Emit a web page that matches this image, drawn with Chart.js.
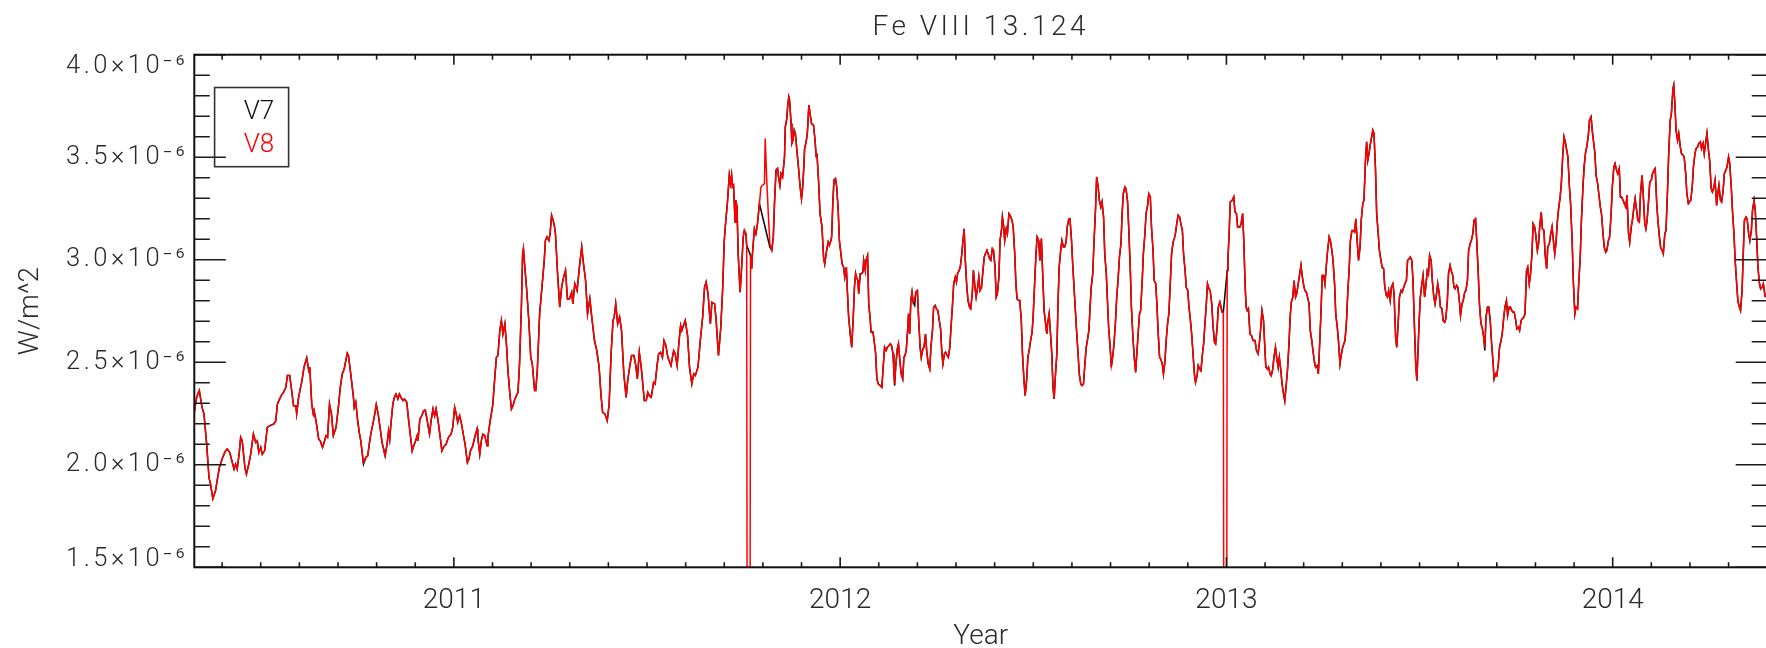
<!DOCTYPE html>
<html><head><meta charset="utf-8">
<script src="https://cdn.jsdelivr.net/npm/chart.js@4.4.1/dist/chart.umd.min.js"></script>
<style>
html,body{margin:0;padding:0;background:#fff;overflow:hidden;width:1766px;height:648px;}
#wrap{position:relative;width:1780px;height:648px;}
canvas{display:block;}
</style></head><body>
<div id="wrap"><canvas id="c" width="1780" height="648"></canvas></div>
<script>
// ---- DATA (decimal year; irradiance in units of 1e-6 W/m^2) ----
const chartTitle = 'Fe VIII 13.124';
const xAxisTitle = 'Year';
const yAxisTitle = 'W/m^2';
const seriesNames = ['V7', 'V8'];
const xTickYears = [2011, 2012, 2013, 2014];
const yTickValues = [1.5, 2.0, 2.5, 3.0, 3.5, 4.0];
const yTickExponent = '\u207B\u2076';

const years = [
2010.328,2010.334,2010.341,2010.348,2010.353,2010.360,2010.366,2010.370,2010.376,2010.383,
2010.387,2010.393,2010.400,2010.405,2010.409,2010.413,2010.420,2010.424,2010.431,2010.435,
2010.439,2010.444,2010.448,2010.452,2010.459,2010.463,2010.469,2010.474,2010.481,2010.487,
2010.491,2010.495,2010.500,2010.504,2010.510,2010.517,2010.524,2010.534,2010.539,2010.543,
2010.547,2010.553,2010.559,2010.565,2010.569,2010.575,2010.579,2010.585,2010.591,2010.593,
2010.598,2010.604,2010.606,2010.612,2010.619,2010.625,2010.627,2010.632,2010.636,2010.638,
2010.643,2010.650,2010.654,2010.660,2010.664,2010.669,2010.673,2010.678,2010.683,2010.688,
2010.695,2010.701,2010.706,2010.711,2010.716,2010.724,2010.727,2010.733,2010.740,2010.742,
2010.746,2010.751,2010.755,2010.759,2010.766,2010.772,2010.777,2010.781,2010.785,2010.792,
2010.796,2010.799,2010.804,2010.810,2010.814,2010.818,2010.822,2010.827,2010.831,2010.834,
2010.837,2010.842,2010.846,2010.850,2010.855,2010.859,2010.863,2010.868,2010.872,2010.878,
2010.883,2010.888,2010.892,2010.896,2010.901,2010.905,2010.907,2010.912,2010.917,2010.922,
2010.926,2010.931,2010.937,2010.941,2010.946,2010.950,2010.954,2010.959,2010.963,2010.969,
2010.973,2010.980,2010.986,2010.993,2010.997,2011.002,2011.006,2011.010,2011.015,2011.019,
2011.025,2011.029,2011.035,2011.039,2011.043,2011.049,2011.054,2011.060,2011.062,2011.067,
2011.071,2011.075,2011.080,2011.086,2011.088,2011.094,2011.097,2011.101,2011.104,2011.110,
2011.114,2011.119,2011.123,2011.127,2011.132,2011.136,2011.140,2011.145,2011.149,2011.153,
2011.158,2011.162,2011.166,2011.170,2011.175,2011.178,2011.180,2011.183,2011.188,2011.194,
2011.199,2011.203,2011.209,2011.212,2011.216,2011.222,2011.228,2011.234,2011.237,2011.241,
2011.246,2011.249,2011.253,2011.257,2011.260,2011.263,2011.268,2011.274,2011.279,2011.284,
2011.289,2011.294,2011.299,2011.305,2011.308,2011.313,2011.319,2011.325,2011.331,2011.335,
2011.341,2011.346,2011.352,2011.357,2011.364,2011.370,2011.376,2011.381,2011.385,2011.391,
2011.397,2011.402,2011.407,2011.412,2011.415,2011.419,2011.424,2011.429,2011.434,2011.440,
2011.446,2011.450,2011.455,2011.460,2011.466,2011.471,2011.475,2011.480,2011.485,2011.493,
2011.498,2011.502,2011.506,2011.511,2011.517,2011.521,2011.526,2011.530,2011.535,2011.540,
2011.544,2011.549,2011.554,2011.562,2011.569,2011.573,2011.578,2011.583,2011.587,2011.590,
2011.599,2011.605,2011.610,2011.616,2011.621,2011.625,2011.632,2011.638,2011.644,2011.649,
2011.653,2011.658,2011.664,2011.668,2011.675,2011.679,2011.685,2011.691,2011.696,2011.700,
2011.704,2011.708,2011.713,2011.716,2011.719,2011.721,2011.724,2011.728,2011.730,2011.733,
2011.736,2011.741,2011.745,2011.749,2011.752,2011.756,2011.758,2011.760,2011.766,2011.768,
2011.771,2011.773,2011.778,2011.782,2011.786,2011.791,2011.795,2011.799,2011.804,2011.806,
2011.810,2011.814,2011.818,2011.823,2011.827,2011.830,2011.834,2011.838,2011.841,2011.844,
2011.847,2011.851,2011.856,2011.858,2011.862,2011.864,2011.867,2011.869,2011.873,2011.875,
2011.878,2011.881,2011.884,2011.888,2011.892,2011.896,2011.900,2011.903,2011.906,2011.908,
2011.912,2011.915,2011.919,2011.922,2011.926,2011.931,2011.935,2011.938,2011.940,2011.944,
2011.948,2011.953,2011.957,2011.960,2011.965,2011.969,2011.972,2011.976,2011.978,2011.981,
2011.984,2011.988,2011.991,2011.995,2011.998,2012.002,2012.005,2012.009,2012.012,2012.016,
2012.019,2012.022,2012.027,2012.030,2012.034,2012.037,2012.040,2012.042,2012.046,2012.048,
2012.052,2012.055,2012.059,2012.061,2012.065,2012.067,2012.071,2012.074,2012.078,2012.080,
2012.085,2012.088,2012.092,2012.095,2012.099,2012.104,2012.108,2012.112,2012.115,2012.119,
2012.122,2012.126,2012.130,2012.133,2012.137,2012.139,2012.141,2012.144,2012.148,2012.151,
2012.155,2012.158,2012.162,2012.165,2012.168,2012.171,2012.175,2012.177,2012.180,2012.183,
2012.186,2012.189,2012.193,2012.196,2012.200,2012.203,2012.207,2012.210,2012.214,2012.217,
2012.221,2012.224,2012.228,2012.232,2012.235,2012.239,2012.242,2012.246,2012.249,2012.253,
2012.256,2012.260,2012.263,2012.266,2012.270,2012.273,2012.277,2012.280,2012.284,2012.287,
2012.291,2012.294,2012.298,2012.301,2012.304,2012.308,2012.311,2012.315,2012.318,2012.321,
2012.324,2012.328,2012.331,2012.335,2012.338,2012.342,2012.345,2012.349,2012.352,2012.356,
2012.359,2012.362,2012.366,2012.369,2012.373,2012.376,2012.380,2012.383,2012.387,2012.390,
2012.394,2012.397,2012.401,2012.404,2012.407,2012.411,2012.414,2012.418,2012.420,2012.423,
2012.426,2012.430,2012.433,2012.437,2012.440,2012.445,2012.448,2012.452,2012.455,2012.458,
2012.462,2012.465,2012.469,2012.472,2012.476,2012.479,2012.483,2012.486,2012.490,2012.493,
2012.497,2012.500,2012.503,2012.507,2012.510,2012.514,2012.517,2012.521,2012.524,2012.528,
2012.531,2012.535,2012.537,2012.541,2012.544,2012.548,2012.551,2012.554,2012.557,2012.561,
2012.564,2012.567,2012.571,2012.574,2012.578,2012.581,2012.585,2012.588,2012.592,2012.595,
2012.599,2012.602,2012.606,2012.609,2012.612,2012.616,2012.619,2012.623,2012.626,2012.630,
2012.633,2012.637,2012.640,2012.644,2012.647,2012.650,2012.654,2012.657,2012.661,2012.664,
2012.668,2012.671,2012.675,2012.678,2012.682,2012.685,2012.689,2012.692,2012.695,2012.699,
2012.702,2012.706,2012.709,2012.713,2012.716,2012.720,2012.723,2012.727,2012.730,2012.733,
2012.737,2012.740,2012.744,2012.747,2012.751,2012.754,2012.758,2012.761,2012.765,2012.768,
2012.772,2012.775,2012.778,2012.782,2012.785,2012.789,2012.792,2012.796,2012.799,2012.803,
2012.806,2012.810,2012.813,2012.817,2012.820,2012.823,2012.827,2012.830,2012.834,2012.837,
2012.841,2012.844,2012.848,2012.851,2012.855,2012.858,2012.862,2012.865,2012.868,2012.872,
2012.875,2012.879,2012.882,2012.886,2012.889,2012.893,2012.896,2012.900,2012.903,2012.906,
2012.910,2012.913,2012.917,2012.920,2012.924,2012.927,2012.931,2012.934,2012.938,2012.941,
2012.945,2012.948,2012.951,2012.955,2012.958,2012.962,2012.965,2012.969,2012.972,2012.976,
2012.979,2012.983,2012.986,2012.989,2012.992,2012.994,2013.000,2013.002,2013.004,2013.007,
2013.010,2013.015,2013.019,2013.022,2013.026,2013.029,2013.035,2013.038,2013.042,2013.045,
2013.048,2013.051,2013.054,2013.057,2013.061,2013.065,2013.069,2013.074,2013.078,2013.082,
2013.086,2013.089,2013.092,2013.096,2013.099,2013.102,2013.106,2013.109,2013.113,2013.116,
2013.120,2013.123,2013.127,2013.130,2013.134,2013.137,2013.141,2013.144,2013.148,2013.151,
2013.155,2013.158,2013.162,2013.165,2013.168,2013.172,2013.175,2013.179,2013.182,2013.186,
2013.189,2013.193,2013.196,2013.200,2013.203,2013.207,2013.210,2013.214,2013.217,2013.221,
2013.224,2013.228,2013.231,2013.235,2013.238,2013.241,2013.245,2013.248,2013.252,2013.255,
2013.259,2013.262,2013.266,2013.269,2013.273,2013.276,2013.280,2013.283,2013.287,2013.290,
2013.294,2013.297,2013.301,2013.304,2013.307,2013.311,2013.314,2013.318,2013.321,2013.325,
2013.328,2013.332,2013.335,2013.339,2013.342,2013.346,2013.349,2013.353,2013.356,2013.360,
2013.363,2013.366,2013.369,2013.373,2013.376,2013.379,2013.382,2013.386,2013.389,2013.393,
2013.396,2013.400,2013.403,2013.407,2013.410,2013.414,2013.417,2013.420,2013.424,2013.427,
2013.431,2013.434,2013.438,2013.441,2013.445,2013.448,2013.452,2013.455,2013.459,2013.462,
2013.466,2013.469,2013.473,2013.476,2013.480,2013.483,2013.486,2013.490,2013.493,2013.495,
2013.499,2013.502,2013.506,2013.509,2013.513,2013.516,2013.520,2013.523,2013.526,2013.530,
2013.533,2013.537,2013.540,2013.544,2013.547,2013.551,2013.554,2013.558,2013.561,2013.565,
2013.568,2013.572,2013.575,2013.579,2013.582,2013.586,2013.589,2013.592,2013.596,2013.599,
2013.603,2013.606,2013.610,2013.613,2013.617,2013.620,2013.624,2013.627,2013.631,2013.634,
2013.638,2013.641,2013.645,2013.648,2013.652,2013.655,2013.659,2013.662,2013.666,2013.669,
2013.672,2013.676,2013.679,2013.683,2013.686,2013.690,2013.693,2013.697,2013.700,2013.704,
2013.707,2013.711,2013.714,2013.718,2013.721,2013.725,2013.728,2013.732,2013.735,2013.739,
2013.742,2013.745,2013.749,2013.752,2013.756,2013.759,2013.763,2013.766,2013.770,2013.773,
2013.777,2013.780,2013.784,2013.787,2013.791,2013.794,2013.798,2013.801,2013.805,2013.808,
2013.811,2013.815,2013.818,2013.822,2013.825,2013.829,2013.832,2013.836,2013.839,2013.843,
2013.846,2013.850,2013.853,2013.857,2013.860,2013.864,2013.867,2013.871,2013.874,2013.878,
2013.881,2013.884,2013.888,2013.891,2013.895,2013.898,2013.902,2013.905,2013.909,2013.912,
2013.916,2013.919,2013.923,2013.926,2013.930,2013.933,2013.937,2013.940,2013.944,2013.947,
2013.950,2013.954,2013.957,2013.961,2013.964,2013.968,2013.971,2013.975,2013.978,2013.982,
2013.985,2013.989,2013.992,2013.996,2013.999,2014.003,2014.006,2014.010,2014.013,2014.017,
2014.020,2014.023,2014.027,2014.030,2014.034,2014.037,2014.041,2014.044,2014.048,2014.051,
2014.055,2014.058,2014.062,2014.065,2014.069,2014.072,2014.076,2014.079,2014.083,2014.086,
2014.089,2014.093,2014.096,2014.100,2014.103,2014.107,2014.110,2014.114,2014.117,2014.121,
2014.124,2014.128,2014.131,2014.135,2014.138,2014.142,2014.145,2014.149,2014.152,2014.156,
2014.158,2014.161,2014.164,2014.168,2014.171,2014.175,2014.178,2014.182,2014.185,2014.189,
2014.192,2014.196,2014.199,2014.202,2014.206,2014.209,2014.213,2014.216,2014.220,2014.223,
2014.227,2014.230,2014.234,2014.237,2014.241,2014.244,2014.248,2014.251,2014.255,2014.258,
2014.262,2014.265,2014.269,2014.272,2014.275,2014.279,2014.282,2014.286,2014.289,2014.293,
2014.296,2014.300,2014.303,2014.307,2014.310,2014.314,2014.317,2014.321,2014.324,2014.328,
2014.331,2014.335,2014.338,2014.341,2014.345,2014.348,2014.352,2014.355,2014.359,2014.362,
2014.366,2014.369,2014.373,2014.376,2014.380,2014.383,2014.387,2014.390,2014.395
];

// V8 (red); 0 marks the two dropout days that fall far below the plotted range
const v8 = [
2.256,2.329,2.362,2.280,2.248,2.101,1.938,1.906,1.835,1.873,
1.922,1.987,2.028,2.052,2.068,2.077,2.060,2.028,1.979,2.003,
1.979,2.052,2.134,2.117,1.987,1.954,2.003,2.052,2.150,2.109,
2.117,2.060,2.085,2.052,2.068,2.182,2.191,2.199,2.215,2.296,
2.313,2.337,2.353,2.378,2.435,2.435,2.378,2.288,2.288,2.248,
2.329,2.386,2.402,2.476,2.521,2.451,2.476,2.296,2.248,2.264,
2.215,2.125,2.117,2.085,2.109,2.142,2.134,2.296,2.248,2.142,
2.182,2.280,2.378,2.443,2.467,2.544,2.533,2.443,2.329,2.280,
2.305,2.215,2.158,2.117,2.011,2.036,2.044,2.101,2.150,2.215,
2.256,2.293,2.248,2.166,2.109,2.077,2.044,2.101,2.166,2.125,
2.199,2.296,2.329,2.345,2.321,2.345,2.329,2.313,2.321,2.305,
2.215,2.134,2.068,2.093,2.117,2.142,2.117,2.223,2.239,2.264,
2.267,2.215,2.150,2.215,2.272,2.239,2.272,2.215,2.158,2.068,
2.085,2.101,2.134,2.150,2.182,2.280,2.248,2.207,2.239,2.207,
2.142,2.101,2.011,2.028,2.068,2.093,2.134,2.174,2.134,2.052,
2.117,2.150,2.142,2.093,2.134,2.215,2.248,2.296,2.378,2.524,
2.533,2.655,2.704,2.638,2.687,2.590,2.459,2.345,2.272,2.288,
2.321,2.337,2.353,2.492,2.785,3.029,3.054,2.980,2.866,2.704,
2.524,2.492,2.362,2.362,2.459,2.736,2.866,2.997,3.094,3.111,
3.094,3.127,3.217,3.192,3.168,3.127,2.948,2.769,2.866,2.915,
2.948,2.809,2.809,2.842,2.785,2.883,2.850,2.964,3.062,2.989,
2.899,2.736,2.809,2.720,2.606,2.557,2.476,2.337,2.256,2.248,
2.215,2.296,2.541,2.704,2.720,2.785,2.687,2.720,2.655,2.443,
2.329,2.410,2.476,2.533,2.533,2.484,2.419,2.549,2.476,2.313,
2.313,2.353,2.337,2.329,2.402,2.394,2.484,2.541,2.549,2.524,
2.606,2.581,2.524,2.484,2.557,2.541,2.484,2.606,2.679,2.655,
2.704,2.630,2.476,2.394,2.443,2.435,2.476,2.606,2.720,2.866,
2.891,2.834,2.687,2.793,2.785,2.704,2.533,2.671,2.866,3.094,
3.192,3.274,3.412,3.371,3.412,3.355,3.363,3.184,3.290,3.257,
3.029,2.842,2.964,3.111,3.143,3.127,3.070,0,0,3.021,
2.956,3.029,3.151,3.127,3.176,3.274,3.355,3.363,3.371,3.591,
3.388,3.225,3.078,3.046,3.111,3.274,3.437,3.445,3.396,3.363,
3.420,3.404,3.502,3.648,3.689,3.746,3.795,3.779,3.664,3.567,
3.583,3.632,3.616,3.534,3.453,3.363,3.298,3.355,3.453,3.542,
3.575,3.616,3.754,3.713,3.664,3.656,3.583,3.502,3.518,3.388,
3.225,3.160,3.013,2.980,3.046,3.086,3.070,3.094,3.111,3.274,
3.388,3.396,3.355,3.241,3.094,3.029,2.980,2.964,2.915,2.964,
2.834,2.720,2.622,2.573,2.720,2.866,2.932,2.915,2.899,2.834,
2.932,2.932,2.940,2.997,2.948,2.997,3.021,2.785,2.704,2.647,
2.647,2.606,2.541,2.419,2.394,2.386,2.378,2.492,2.573,2.557,
2.573,2.581,2.590,2.581,2.541,2.459,2.394,2.484,2.565,2.590,
2.500,2.443,2.419,2.524,2.533,2.557,2.663,2.736,2.638,2.801,
2.842,2.793,2.809,2.842,2.850,2.720,2.573,2.524,2.565,2.573,
2.638,2.557,2.492,2.467,2.573,2.655,2.769,2.777,2.761,2.752,
2.712,2.663,2.557,2.492,2.541,2.549,2.533,2.524,2.573,2.671,
2.785,2.883,2.915,2.891,2.932,2.948,2.964,3.029,3.094,3.151,
2.997,2.866,2.801,2.769,2.761,2.834,2.948,2.866,2.818,2.866,
2.915,2.850,2.866,2.932,3.013,3.029,3.046,3.029,3.005,2.997,
3.054,3.046,2.964,2.818,2.834,2.915,3.094,3.151,3.208,3.168,
3.094,3.151,3.127,3.225,3.217,3.192,3.160,3.029,2.883,2.809,
2.801,2.801,2.704,2.541,2.410,2.337,2.419,2.524,2.565,2.606,
2.647,2.736,2.866,3.029,3.111,3.094,2.997,3.103,2.948,2.752,
2.704,2.638,2.687,2.736,2.655,2.541,2.378,2.321,2.427,2.541,
2.785,2.964,3.046,3.094,3.062,3.062,3.086,3.160,3.200,3.200,
3.094,2.980,2.850,2.752,2.655,2.541,2.443,2.394,2.386,2.394,
2.476,2.573,2.606,2.655,2.769,2.866,2.932,3.078,3.241,3.404,
3.355,3.290,3.257,3.282,3.208,3.029,2.932,2.801,2.671,2.573,
2.484,2.533,2.590,2.704,2.818,2.915,3.013,3.078,3.225,3.322,
3.355,3.347,3.290,3.160,2.964,2.769,2.622,2.533,2.451,2.541,
2.655,2.736,2.752,2.899,3.029,3.127,3.225,3.265,3.322,3.306,
3.160,3.046,2.899,2.883,2.785,2.655,2.524,2.516,2.492,2.443,
2.508,2.606,2.695,2.736,2.899,3.029,3.086,3.103,3.127,3.184,
3.217,3.208,3.176,3.143,3.029,2.948,2.866,2.850,2.769,2.720,
2.638,2.557,2.443,2.402,2.435,2.484,2.467,2.459,2.541,2.590,
2.704,2.785,2.883,2.858,2.850,2.785,2.687,2.598,2.590,2.671,
2.769,2.793,2.769,2.744,2.744,0,0,2.948,3.005,3.127,
3.282,3.290,3.306,3.233,3.225,3.160,3.160,3.176,3.225,3.094,
2.899,2.769,2.752,2.761,2.638,2.630,2.606,2.606,2.557,2.541,
2.606,2.671,2.752,2.704,2.590,2.476,2.467,2.476,2.443,2.435,
2.467,2.524,2.573,2.524,2.476,2.524,2.459,2.394,2.345,2.313,
2.394,2.459,2.590,2.720,2.793,2.818,2.899,2.818,2.834,2.883,
2.923,2.972,2.923,2.875,2.850,2.842,2.818,2.785,2.655,2.606,
2.557,2.500,2.476,2.484,2.443,2.573,2.752,2.923,2.923,2.883,
2.980,3.046,3.111,3.094,3.046,2.997,2.883,2.736,2.671,2.606,
2.492,2.533,2.573,2.590,2.606,2.704,2.834,2.964,3.094,3.143,
3.143,3.135,3.200,3.078,2.997,3.062,3.192,3.274,3.290,3.485,
3.575,3.485,3.518,3.567,3.599,3.632,3.616,3.437,3.225,3.127,
3.046,2.997,2.964,2.956,2.866,2.826,2.818,2.850,2.801,2.866,
2.883,2.834,2.622,2.573,2.704,2.818,2.850,2.842,2.866,2.883,
2.899,2.997,3.005,3.013,2.997,2.899,2.720,2.492,2.410,2.508,
2.704,2.818,2.883,2.923,2.818,2.866,2.948,2.932,3.021,2.997,
2.899,2.818,2.785,2.834,2.883,2.834,2.769,2.761,2.704,2.695,
2.712,2.801,2.932,2.972,2.948,2.923,2.866,2.858,2.875,2.866,
2.801,2.728,2.785,2.801,2.842,2.850,2.899,3.046,3.078,3.094,
3.127,3.192,3.200,3.094,2.932,2.785,2.687,2.671,2.622,2.573,
2.720,2.769,2.769,2.704,2.606,2.508,2.419,2.443,2.435,2.492,
2.573,2.606,2.638,2.720,2.769,2.801,2.728,2.769,2.769,2.752,
2.744,2.744,2.704,2.663,2.671,2.655,2.704,2.712,2.720,2.736,
2.948,2.964,2.883,2.923,3.029,3.176,3.160,3.119,3.046,3.078,
3.160,3.233,3.151,3.143,3.029,2.956,3.062,3.078,3.119,3.160,
3.103,3.029,3.078,3.192,3.249,3.306,3.371,3.518,3.599,3.567,
3.534,3.502,3.355,3.274,3.094,2.899,2.736,2.769,2.761,2.883,
3.013,3.192,3.355,3.453,3.526,3.551,3.608,3.681,3.697,3.632,
3.583,3.518,3.412,3.371,3.322,3.257,3.225,3.127,3.062,3.037,
3.046,3.094,3.111,3.225,3.355,3.453,3.469,3.437,3.420,3.445,
3.306,3.306,3.290,3.274,3.257,3.314,3.127,3.086,3.160,3.192,
3.257,3.298,3.241,3.192,3.184,3.322,3.412,3.322,3.176,3.151,
3.192,3.290,3.379,3.388,3.420,3.437,3.445,3.274,3.192,3.111,
3.062,3.046,3.029,3.127,3.143,3.339,3.518,3.681,3.713,3.835,
3.852,3.762,3.632,3.583,3.616,3.551,3.518,3.510,3.502,3.420,
3.322,3.274,3.282,3.290,3.355,3.453,3.518,3.542,3.551,3.567,
3.575,3.542,3.567,3.518,3.575,3.616,3.534,3.485,3.347,3.331,
3.355,3.388,3.265,3.322,3.363,3.290,3.282,3.339,3.420,3.437,
3.453,3.502,3.469,3.355,3.241,3.127,2.997,2.883,2.801,2.769,
2.752,2.850,3.029,3.192,3.208,3.200,3.127,3.094,3.143,3.241,
3.290,3.241,3.094,2.964,2.883,2.858,2.866,2.883,2.818
];

// V7 (black); null = no V7 value on that day (line drawn straight across)
const v7 = [
2.256,2.329,2.362,2.280,2.248,2.101,1.938,1.906,1.835,1.873,
1.922,1.987,2.028,2.052,2.068,2.077,2.060,2.028,1.979,2.003,
1.979,2.052,2.134,2.117,1.987,1.954,2.003,2.052,2.150,2.109,
2.117,2.060,2.085,2.052,2.068,2.182,2.191,2.199,2.215,2.296,
2.313,2.337,2.353,2.378,2.435,2.435,2.378,2.288,2.288,2.248,
2.329,2.386,2.402,2.476,2.521,2.451,2.476,2.296,2.248,2.264,
2.215,2.125,2.117,2.085,2.109,2.142,2.134,2.296,2.248,2.142,
2.182,2.280,2.378,2.443,2.467,2.544,2.533,2.443,2.329,2.280,
2.305,2.215,2.158,2.117,2.003,2.036,2.044,2.101,2.150,2.215,
2.256,2.293,2.248,2.166,2.109,2.077,2.044,2.101,2.166,2.125,
2.199,2.296,2.329,2.345,2.321,2.345,2.329,2.313,2.321,2.305,
2.215,2.134,2.068,2.093,2.117,2.142,2.117,2.223,2.239,2.264,
2.267,2.215,2.150,2.215,2.272,2.239,2.272,2.215,2.158,2.068,
2.085,2.101,2.134,2.150,2.182,2.280,2.248,2.207,2.239,2.207,
2.142,2.101,2.011,2.028,2.068,2.093,2.134,2.174,2.134,2.052,
2.117,2.150,2.142,2.093,2.134,2.215,2.248,2.296,2.378,2.524,
2.533,2.655,2.704,2.638,2.687,2.590,2.459,2.345,2.272,2.288,
2.321,2.337,2.353,2.492,2.785,3.029,3.054,2.980,2.866,2.704,
2.524,2.492,2.362,2.362,2.459,2.736,2.866,2.997,3.094,3.111,
3.094,3.127,3.217,3.192,3.168,3.127,2.948,2.769,2.866,2.915,
2.948,2.809,2.809,2.842,2.785,2.883,2.850,2.964,3.062,2.989,
2.899,2.736,2.809,2.720,2.606,2.557,2.476,2.337,2.256,2.248,
2.215,2.296,2.541,2.704,2.720,2.785,2.687,2.720,2.655,2.443,
2.329,2.410,2.476,2.533,2.533,2.484,2.419,2.549,2.476,2.313,
2.313,2.353,2.337,2.329,2.402,2.394,2.484,2.541,2.549,2.524,
2.606,2.581,2.524,2.484,2.557,2.541,2.484,2.606,2.679,2.655,
2.704,2.630,2.476,2.394,2.443,2.435,2.476,2.606,2.720,2.866,
2.891,2.834,2.687,2.793,2.785,2.704,2.533,2.671,2.866,3.094,
3.192,3.274,3.412,3.371,3.412,3.355,3.363,3.184,3.290,3.257,
3.029,2.842,2.964,3.111,3.143,3.127,3.070,null,null,3.021,
2.956,3.029,3.151,3.127,3.176,3.274,null,null,null,null,
null,null,3.062,3.046,3.111,3.274,3.437,3.445,3.396,3.363,
3.420,3.404,3.502,3.648,3.689,3.746,3.795,3.779,3.664,3.567,
3.583,3.632,3.616,3.534,3.453,3.363,3.298,3.355,3.453,3.542,
3.575,3.616,3.754,3.713,3.664,3.656,3.583,3.502,3.518,3.388,
3.225,3.160,3.013,2.980,3.046,3.086,3.070,3.094,3.111,3.274,
3.388,3.396,3.355,3.241,3.094,3.029,2.980,2.964,2.915,2.964,
2.834,2.720,2.622,2.573,2.720,2.866,2.932,2.915,2.899,2.834,
2.932,2.932,2.940,2.997,2.948,2.997,3.021,2.785,2.704,2.647,
2.647,2.606,2.541,2.419,2.394,2.386,2.378,2.492,2.573,2.557,
2.573,2.581,2.590,2.581,2.541,2.459,2.386,2.484,2.565,2.590,
2.500,2.443,2.419,2.524,2.533,2.557,2.663,2.736,2.638,2.801,
2.842,2.793,2.777,2.842,2.850,2.720,2.573,2.524,2.565,2.573,
2.638,2.557,2.492,2.467,2.573,2.655,2.769,2.777,2.761,2.752,
2.712,2.663,2.557,2.492,2.541,2.549,2.533,2.524,2.573,2.671,
2.785,2.883,2.915,2.891,2.932,2.948,2.964,3.029,3.094,3.151,
2.997,2.866,2.801,2.769,2.761,2.834,2.948,2.866,2.818,2.866,
2.915,2.850,2.866,2.932,3.013,3.029,3.046,3.029,3.005,2.997,
3.054,3.046,2.964,2.818,2.834,2.915,3.094,3.151,3.208,3.168,
3.094,3.151,3.127,3.225,3.217,3.192,3.160,3.029,2.883,2.809,
2.801,2.801,2.704,2.541,2.410,2.337,2.419,2.524,2.565,2.606,
2.647,2.736,2.866,3.029,3.111,3.094,2.997,3.103,2.948,2.752,
2.704,2.638,2.687,2.736,2.655,2.541,2.378,2.321,2.427,2.541,
2.785,2.964,3.046,3.094,3.062,3.062,3.086,3.160,3.200,3.200,
3.094,2.980,2.850,2.752,2.655,2.541,2.443,2.394,2.386,2.394,
2.476,2.573,2.606,2.655,2.769,2.866,2.932,3.078,3.241,3.404,
3.355,3.290,3.257,3.282,3.208,3.029,2.932,2.801,2.671,2.573,
2.476,2.533,2.590,2.704,2.818,2.915,3.013,3.078,3.225,3.322,
3.355,3.347,3.282,3.160,2.964,2.769,2.622,2.533,2.451,2.541,
2.655,2.736,2.752,2.899,3.029,3.127,3.225,3.265,3.322,3.306,
3.160,3.046,2.899,2.883,2.785,2.655,2.524,2.516,2.492,2.443,
2.508,2.606,2.695,2.736,2.899,3.029,3.086,3.103,3.127,3.184,
3.217,3.208,3.176,3.143,3.029,2.948,2.866,2.850,2.769,2.720,
2.638,2.557,2.443,2.402,2.435,2.484,2.467,2.459,2.541,2.590,
2.704,2.785,2.883,2.858,2.850,2.785,2.687,2.598,2.590,2.671,
2.769,2.793,2.769,2.744,2.744,null,null,2.948,3.005,3.127,
3.282,3.290,3.306,3.233,3.225,3.160,3.160,3.176,3.225,3.094,
2.899,2.769,2.752,2.761,2.638,2.630,2.606,2.606,2.557,2.541,
2.606,2.671,2.752,2.704,2.590,2.476,2.467,2.476,2.443,2.435,
2.467,2.524,2.573,2.524,2.476,2.524,2.459,2.394,2.345,2.313,
2.394,2.459,2.590,2.720,2.793,2.818,2.899,2.818,2.834,2.883,
2.923,2.972,2.923,2.875,2.850,2.842,2.818,2.785,2.655,2.606,
2.557,2.500,2.476,2.484,2.443,2.573,2.752,2.923,2.923,2.883,
2.980,3.046,3.111,3.094,3.046,2.997,2.883,2.736,2.671,2.606,
2.492,2.533,2.573,2.590,2.606,2.704,2.834,2.964,3.094,3.143,
3.143,3.135,3.200,3.078,2.997,3.062,3.192,3.274,3.290,3.485,
3.575,3.485,3.518,3.567,3.599,3.632,3.616,3.437,3.225,3.127,
3.046,2.997,2.964,2.956,2.866,2.826,2.818,2.850,2.801,2.866,
2.883,2.834,2.622,2.573,2.704,2.818,2.850,2.842,2.866,2.883,
2.899,2.997,3.005,3.013,2.997,2.899,2.720,2.492,2.410,2.508,
2.704,2.818,2.883,2.923,2.818,2.866,2.948,2.932,3.021,2.997,
2.899,2.818,2.785,2.834,2.883,2.834,2.769,2.761,2.704,2.695,
2.712,2.801,2.932,2.972,2.948,2.923,2.866,2.858,2.875,2.866,
2.801,2.728,2.785,2.801,2.842,2.850,2.899,3.046,3.078,3.094,
3.127,3.192,3.200,3.094,2.932,2.785,2.687,2.671,2.622,2.557,
2.720,2.769,2.769,2.704,2.606,2.508,2.419,2.443,2.435,2.492,
2.573,2.606,2.638,2.720,2.769,2.801,2.728,2.769,2.769,2.752,
2.744,2.744,2.704,2.663,2.671,2.655,2.704,2.712,2.720,2.736,
2.948,2.964,2.883,2.923,3.029,3.176,3.160,3.119,3.046,3.078,
3.160,3.233,3.151,3.143,3.029,2.956,3.062,3.078,3.119,3.160,
3.103,3.029,3.078,3.192,3.249,3.306,3.371,3.518,3.599,3.567,
3.534,3.502,3.355,3.274,3.094,2.899,2.736,2.769,2.761,2.883,
3.013,3.192,3.355,3.453,3.526,3.551,3.608,3.681,3.697,3.632,
3.583,3.518,3.412,3.371,3.322,3.257,3.225,3.127,3.062,3.037,
3.046,3.094,3.111,3.225,3.355,3.453,3.469,3.437,3.420,3.445,
3.306,3.306,3.290,3.274,3.257,3.314,3.127,3.086,3.160,3.192,
3.257,3.298,3.241,3.192,3.184,3.322,3.412,3.322,3.176,3.151,
3.192,3.290,3.379,3.388,3.420,3.437,3.445,3.274,3.192,3.111,
3.062,3.046,3.029,3.127,3.143,3.339,3.518,3.681,3.713,3.835,
3.852,3.762,3.632,3.583,3.616,3.551,3.518,3.510,3.502,3.420,
3.322,3.274,3.282,3.290,3.355,3.453,3.518,3.542,3.551,3.567,
3.575,3.542,3.567,3.518,3.575,3.616,3.534,3.485,3.347,3.331,
3.355,3.388,3.265,3.322,3.363,3.290,3.282,3.339,3.420,3.437,
3.453,3.502,3.469,3.355,3.241,3.127,2.997,2.883,2.801,2.769,
2.752,2.850,3.029,3.192,3.208,3.200,3.127,3.094,3.143,3.241,
3.290,3.241,3.094,2.964,2.883,2.858,2.866,2.883,2.818
];

// ---- CHART ----
const FONT = "Roboto, 'DejaVu Sans', sans-serif";
const WEIGHT = 300;
const TEXT = '#2a2a2a';
const X_MIN = 2010.328, X_MAX = 2014.40;
const Y_MIN = 1.5, Y_MAX = 4.0;
const SPACED = '3.5px';

function yLabel(v) {
  const s = v.toFixed(1) + '\u00D710' + yTickExponent;
  if (Math.abs(v - Y_MAX) < 1e-9) return ['', s];
  if (Math.abs(v - Y_MIN) < 1e-9) return [s, ''];
  return s;
}

// title and y tick labels (layers z<=0) are drawn with wider letter spacing
const spacing = {
  id: 'spacing',
  beforeDraw(chart) { chart.ctx.letterSpacing = SPACED; },
  beforeDatasetsDraw(chart) { chart.ctx.letterSpacing = '0px'; }
};

const idlAxes = {
  id: 'idlAxes',
  afterDraw(chart) {
    const {ctx, chartArea: a, scales: {x, y}} = chart;
    ctx.save();
    ctx.letterSpacing = '0px';
    ctx.strokeStyle = '#1a1a1a';
    ctx.lineWidth = 1.6;
    ctx.beginPath();
    for (let k = 0; k <= 25; k++) {
      const py = y.getPixelForValue(Y_MIN + k * 0.1);
      const len = (k % 5 === 0) ? 31.5 : 15.5;
      ctx.moveTo(a.left, py); ctx.lineTo(a.left + len, py);
      ctx.moveTo(a.right, py); ctx.lineTo(a.right - len, py);
    }
    for (let t = 20100; t <= 20150; t++) {
      const v = t / 10;
      if (v < X_MIN || v > X_MAX) continue;
      const px = x.getPixelForValue(v);
      const len = (t % 10 === 0) ? 10 : 5;
      ctx.moveTo(px, a.bottom); ctx.lineTo(px, a.bottom - len);
      ctx.moveTo(px, a.top); ctx.lineTo(px, a.top + len);
    }
    ctx.stroke();
    ctx.lineWidth = 2;
    ctx.strokeStyle = '#111';
    ctx.strokeRect(a.left, a.top, a.right - a.left, a.bottom - a.top);
    // legend
    ctx.lineWidth = 1.6;
    ctx.strokeStyle = '#333';
    ctx.strokeRect(a.left + 20.3, a.top + 32.8, 74, 79.2);
    ctx.font = WEIGHT + ' 26px ' + FONT;
    ctx.textAlign = 'left';
    ctx.textBaseline = 'alphabetic';
    ctx.fillStyle = '#111';
    ctx.fillText(seriesNames[0], a.left + 49.5, a.top + 64.3);
    ctx.fillStyle = '#ff0000';
    ctx.fillText(seriesNames[1], a.left + 49.5, a.top + 96.8);
    ctx.restore();
  }
};

new Chart(document.getElementById('c'), {
  type: 'line',
  data: {
    datasets: [
      { label: seriesNames[0], data: years.map((x, i) => ({x: x, y: v7[i]})),
        borderColor: '#000000', borderWidth: 1.5, pointRadius: 0, tension: 0,
        spanGaps: true, order: 1 },
      { label: seriesNames[1], data: years.map((x, i) => ({x: x, y: v8[i]})),
        borderColor: '#ff0000', borderWidth: 1.5, pointRadius: 0, tension: 0,
        spanGaps: false, order: 0 }
    ]
  },
  options: {
    responsive: false, animation: false, devicePixelRatio: 1,
    layout: { padding: { left: 0, right: 12.8, top: 0, bottom: 0 } },
    plugins: {
      legend: { display: false }, tooltip: { enabled: false },
      title: { display: true, text: chartTitle, fullSize: false, color: TEXT,
        font: { family: FONT, size: 28, weight: WEIGHT, lineHeight: 1.2 },
        padding: { top: 11, bottom: 10.1 } }
    },
    scales: {
      x: {
        type: 'linear', min: X_MIN, max: X_MAX,
        afterFit(s) { s.height = 80.7; },
        grid: { display: false, drawTicks: false, z: 1 }, border: { display: false },
        ticks: { z: 1, stepSize: 1, includeBounds: false, autoSkip: false, maxRotation: 0,
          padding: 17, color: TEXT, font: { family: FONT, size: 28, weight: WEIGHT, lineHeight: 1.2 },
          callback: (v) => xTickYears.includes(Math.round(v)) && Math.abs(v - Math.round(v)) < 1e-6 ? String(Math.round(v)) : '' },
        title: { display: true, text: xAxisTitle, color: TEXT,
          font: { family: FONT, size: 28, weight: WEIGHT, lineHeight: 0.8 }, padding: { top: 0, bottom: 0 } }
      },
      y: {
        type: 'linear', min: Y_MIN, max: Y_MAX,
        afterFit(s) { s.width = 194.3; },
        grid: { display: false, drawTicks: false, z: 1 }, border: { display: false },
        afterBuildTicks(s) { s.ticks = yTickValues.map(v => ({value: v})); },
        ticks: { padding: 6, color: TEXT,
          font: (c) => ({ family: FONT, size: 25.5, weight: WEIGHT, lineHeight: (c.index === 0) ? 0.63 : 0.9 }),
          callback: (v) => yLabel(v) },
        title: { display: true, text: yAxisTitle, color: TEXT,
          font: { family: FONT, size: 28, weight: WEIGHT, lineHeight: 1.2 }, padding: { top: 14.5, bottom: 0 } }
      }
    }
  },
  plugins: [spacing, idlAxes]
});
</script>
</body></html>
